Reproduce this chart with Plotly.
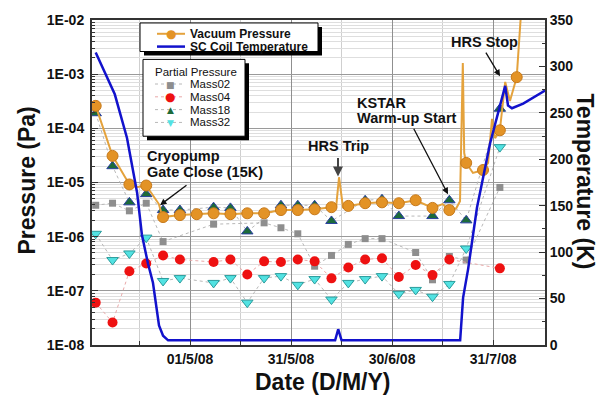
import plotly.graph_objects as go

# ---------------- data ----------------
sample_dates = [
    "2008-04-03", "2008-04-08", "2008-04-13", "2008-04-18", "2008-04-23", "2008-04-28",
    "2008-05-03", "2008-05-08", "2008-05-13", "2008-05-18", "2008-05-23", "2008-05-28",
    "2008-06-02", "2008-06-07", "2008-06-12", "2008-06-17", "2008-06-22", "2008-06-27",
    "2008-07-02", "2008-07-07", "2008-07-12", "2008-07-17", "2008-07-22", "2008-07-27",
    "2008-08-01", "2008-08-06",
]
vacuum_at_samples = [
    2.6e-4, 3.1e-5, 9.2e-6, 8.8e-6, 2.3e-6, 2.5e-6,
    2.6e-6, 2.7e-6, 2.6e-6, 2.7e-6, 2.7e-6, 3.1e-6,
    3.1e-6, 3.2e-6, 3.5e-6, 3.7e-6, 4.15e-6, 4.3e-6,
    4.15e-6, 4.7e-6, 3.4e-6, 3.1e-6, 2.3e-5, 1.7e-5,
    9.2e-5, 8.8e-4,
]
vacuum_dates = [
    "2008-04-03", "2008-04-08", "2008-04-13", "2008-04-15 12:00", "2008-04-18",
    "2008-04-20", "2008-04-21 18:00", "2008-04-22 16:00", "2008-04-23", "2008-04-28",
    "2008-05-03", "2008-05-08", "2008-05-13", "2008-05-18", "2008-05-23", "2008-05-28",
    "2008-06-02", "2008-06-07", "2008-06-12", "2008-06-13 10:00", "2008-06-14 06:00",
    "2008-06-15 10:00", "2008-06-17", "2008-06-22", "2008-06-27", "2008-07-02",
    "2008-07-07", "2008-07-12", "2008-07-15", "2008-07-17", "2008-07-19",
    "2008-07-20 04:00", "2008-07-21", "2008-07-21 10:00", "2008-07-22", "2008-07-24",
    "2008-07-27", "2008-07-28 12:00", "2008-07-29 16:00", "2008-07-30 14:00", "2008-08-01",
    "2008-08-02 14:00", "2008-08-04", "2008-08-06", "2008-08-07 08:00",
]
vacuum_values = [
    2.6e-4, 3.1e-5, 9.2e-6, 8.3e-6, 8.8e-6,
    5.8e-6, 4.0e-6, 2.5e-6, 2.3e-6, 2.5e-6,
    2.6e-6, 2.7e-6, 2.6e-6, 2.7e-6, 2.7e-6, 3.1e-6,
    3.1e-6, 3.2e-6, 3.5e-6, 3.7e-6, 1.25e-5,
    3.5e-6, 3.7e-6, 4.15e-6, 4.3e-6, 4.15e-6,
    4.7e-6, 3.4e-6, 4.0e-6, 3.1e-6, 3.3e-6,
    4.5e-6, 1.6e-3, 3.5e-5, 2.3e-5, 1.5e-5,
    1.7e-5, 2.3e-5, 1.5e-4, 6.6e-5, 9.2e-5,
    7.2e-4, 3.2e-4, 8.8e-4, 1.5e-2,
]
mass02 = [3.8e-6, 4.15e-6, 3.0e-6, 4.15e-6, 8.1e-7, None,
          None, 1.7e-6, None, None, 1.8e-6, 1.46e-6,
          1.13e-6, 2.85e-7, 4.5e-7, 7.2e-7, 9.2e-7, 9.2e-7,
          None, 5.1e-7, 1.6e-7, 4.3e-7, 3.7e-7, None,
          8.1e-6, None]
mass04 = [6.05e-8, 2.6e-8, 2.3e-7, 3.2e-7, 4.5e-7, 3.8e-7,
          None, 3.4e-7, 3.8e-7, 2.0e-7, 3.5e-7, 3.4e-7,
          3.8e-7, 3.5e-7, 1.7e-7, 2.7e-7, 3.8e-7, 4.0e-7,
          1.8e-7, 3.0e-7, 1.95e-7, 3.8e-7, None, None,
          2.6e-7, None]
mass18 = [1.9e-4, 2.0e-5, 4.3e-6, 6.1e-6, 3.1e-6, 3.1e-6,
          None, 3.5e-6, 3.4e-6, 1.25e-6, None, 3.8e-6,
          3.8e-6, 3.8e-6, 1.95e-6, None, 4.7e-6, 4.9e-6,
          2.4e-6, None, 2.4e-6, 4.7e-6, 2.0e-6, None,
          2.3e-4, None]
mass32 = [1.13e-6, 3.7e-7, 4.9e-7, 9.6e-7, 1.52e-7, 1.72e-7,
          None, 1.4e-7, 1.72e-7, 6.05e-8, 1.72e-7, 1.87e-7,
          1.29e-7, 1.65e-7, 6.9e-8, 1.4e-7, 1.65e-7, 1.87e-7,
          8.8e-8, 1.04e-7, 7.8e-8, 1.34e-7, 6.05e-7, None,
          4.5e-5, None]
temp_dates = [
    "2008-04-03", "2008-04-08 16:00", "2008-04-12 07:00", "2008-04-15 07:00",
    "2008-04-16 17:00", "2008-04-18 12:00", "2008-04-20", "2008-04-20 22:00",
    "2008-04-21 19:00", "2008-04-23", "2008-04-24 12:00", "2008-06-13 02:00",
    "2008-06-14", "2008-06-15", "2008-07-20 05:00", "2008-07-21 02:00",
    "2008-07-22 14:00", "2008-07-25 05:00", "2008-07-29 02:00", "2008-08-02 14:00",
    "2008-08-03 10:00", "2008-08-04 14:00", "2008-08-07 22:00", "2008-08-14 10:00",
]
temp_values = [315, 270, 223, 164, 119, 88, 67, 42, 21, 10, 5, 5,
               17, 5, 5, 51, 82, 148, 217, 279, 258, 255, 260, 274]

x_tick_dates = ["2008-05-01", "2008-05-31", "2008-06-30", "2008-07-30"]
x_tick_labels = ["01/5/08", "31/5/08", "30/6/08", "31/7/08"]
x_minor_dates = ["2008-04-16", "2008-05-16", "2008-06-15", "2008-07-15"]
p_tick_vals = [1e-8, 1e-7, 1e-6, 1e-5, 1e-4, 1e-3, 1e-2]
p_tick_labels = ["1E-08", "1E-07", "1E-06", "1E-05", "1E-04", "1E-03", "1E-02"]
t_tick_vals = [0, 50, 100, 150, 200, 250, 300, 350]
x_range = ["2008-04-01 21:36", "2008-08-14 09:36"]

# ---------------- layout helpers (pixel -> paper) ----------------
PL, PR, PT, PB = 92, 545, 15, 345
def fx(p):
    return (p - PL) / (PR - PL)
def fy(p):
    return (PB - p) / (PB - PT)

FONT = "Liberation Sans"
ORANGE_LINE = "#E4A23C"
ORANGE_MK = "#E39326"
BLUE = "#1212CC"

fig = go.Figure()
fig.add_trace(go.Scatter(x=sample_dates, y=mass02, name="Mass02", mode="lines+markers",
                         connectgaps=True, line=dict(color="#b8b8b8", width=1, dash="dot"),
                         marker=dict(symbol="square", size=7, color="#8e8e8e"), showlegend=False))
fig.add_trace(go.Scatter(x=sample_dates, y=mass04, name="Mass04", mode="lines+markers",
                         connectgaps=True, line=dict(color="#e9a8a8", width=1, dash="dot"),
                         marker=dict(symbol="circle", size=10, color="#EE1111"), showlegend=False))
fig.add_trace(go.Scatter(x=sample_dates, y=mass18, name="Mass18", mode="lines+markers",
                         connectgaps=True, line=dict(color="#b8b8b8", width=1, dash="dot"),
                         marker=dict(symbol="triangle-up", size=10, color="#1C6B3A",
                                     line=dict(color="#2A3FA0", width=1)), showlegend=False))
fig.add_trace(go.Scatter(x=sample_dates, y=mass32, name="Mass32", mode="lines+markers",
                         connectgaps=True, line=dict(color="#b8b8b8", width=1, dash="dot"),
                         marker=dict(symbol="triangle-down", size=10, color="#52E2E2",
                                     line=dict(color="#2A9C9C", width=1)), showlegend=False))
fig.add_trace(go.Scatter(x=vacuum_dates, y=vacuum_values, name="Vacuum Pressure", mode="lines",
                         line=dict(color=ORANGE_LINE, width=2), showlegend=False))
fig.add_trace(go.Scatter(x=sample_dates, y=vacuum_at_samples, name="Vacuum Pressure", mode="markers",
                         marker=dict(symbol="circle", size=11, color=ORANGE_MK,
                                     line=dict(color="#C77A1C", width=1)), showlegend=False))
fig.add_trace(go.Scatter(x=temp_dates, y=temp_values, name="SC Coil Temperature", mode="lines",
                         yaxis="y2", line=dict(color=BLUE, width=2.5), showlegend=False))

minor_p = [m * 10.0 ** e for e in range(-8, -2) for m in range(2, 10)]

fig.update_layout(
    width=606, height=396,
    margin=dict(l=PL, r=606 - PR, t=PT, b=396 - PB),
    paper_bgcolor="white", plot_bgcolor="white",
    font=dict(family=FONT, color="#111111"),
    showlegend=False,
    xaxis=dict(type="date", range=x_range, tickmode="array", tickvals=x_tick_dates,
               ticktext=x_tick_labels, ticks="inside", ticklen=5, tickcolor="#333",
               showgrid=True, gridcolor="#8f8f8f", gridwidth=1,
               minor=dict(tickvals=x_minor_dates, ticks="inside", ticklen=4, tickcolor="#333",
                          showgrid=True, gridcolor="#cfcfcf"),
               showline=True, linecolor="#333", linewidth=2, mirror=True, zeroline=False,
               tickfont=dict(family=FONT, size=14, weight="bold", color="#111")),
    yaxis=dict(type="log", range=[-8, -2], tickmode="array", tickvals=p_tick_vals,
               ticktext=p_tick_labels, ticks="inside", ticklen=6, tickcolor="#333",
               showgrid=True, gridcolor="#9a9a9a", gridwidth=1,
               minor=dict(tickvals=minor_p, ticks="inside", ticklen=3, tickcolor="#333",
                          showgrid=True, gridcolor="#dedede"),
               showline=True, linecolor="#333", linewidth=2, mirror=True, zeroline=False,
               ticklabelstandoff=3,
               tickfont=dict(family=FONT, size=14, weight="bold", color="#111")),
    yaxis2=dict(overlaying="y", side="right", range=[0, 350], tickmode="array",
                tickvals=t_tick_vals, ticks="inside", ticklen=6, tickcolor="#333",
                minor=dict(dtick=25, ticks="inside", ticklen=3, tickcolor="#333"),
                showgrid=False, zeroline=False, showline=True, linecolor="#333", linewidth=2,
                tickfont=dict(family=FONT, size=14, weight="bold", color="#111")),
)

shapes = []
ann = []

def rect(x0, y0, x1, y1, fill, lw):
    shapes.append(dict(type="rect", xref="paper", yref="paper", x0=fx(x0), x1=fx(x1),
                       y0=fy(y1), y1=fy(y0), fillcolor=fill,
                       line=dict(color="black", width=lw), layer="above"))

def hline(x0, x1, y, color, width, dash="solid"):
    shapes.append(dict(type="line", xref="paper", yref="paper", x0=fx(x0), x1=fx(x1),
                       y0=fy(y), y1=fy(y), line=dict(color=color, width=width, dash=dash),
                       layer="above"))

def text(t, x, y, size, bold=True, xanchor="left", color="#111111", family=FONT, angle=0):
    ann.append(dict(text=t, xref="paper", yref="paper", x=fx(x), y=fy(y), xanchor=xanchor,
                    yanchor="middle", showarrow=False, textangle=angle,
                    font=dict(family=family, size=size, color=color,
                              weight="bold" if bold else "normal")))

def arrow(tail, tip, color="#111111", width=1.3):
    ann.append(dict(text="", xref="paper", yref="paper", x=fx(tip[0]), y=fy(tip[1]),
                    ax=tail[0] - tip[0], ay=tail[1] - tip[1], showarrow=True,
                    arrowhead=2, arrowsize=1, arrowwidth=width, arrowcolor=color))

# legend 1 (main series)
rect(144, 22, 322, 51, "black", 0)
rect(140, 18, 318, 47, "white", 1)
hline(157, 185, 29, ORANGE_LINE, 2)
hline(157, 185, 42, BLUE, 2.5)
text("\u25CF", 171, 29.5, 12, bold=False, xanchor="center", color=ORANGE_MK, family="DejaVu Sans")
text("Vacuum Pressure", 188, 29, 12)
text("SC Coil Temperature", 188, 42, 12)

# legend 2 (partial pressures)
rect(147, 59, 249, 137, "black", 0)
rect(143, 55, 245, 133, "white", 1)
text("Partial Pressure", 153, 68, 11.5, bold=False)
legend2 = [("Mass02", 80, "\u25A0", "#8e8e8e", 9, "#b8b8b8"),
           ("Mass04", 93, "\u25CF", "#EE1111", 12, "#e9a8a8"),
           ("Mass18", 106, "\u25B2", "#1C6B3A", 9, "#b8b8b8"),
           ("Mass32", 119, "\u25BC", "#52E2E2", 9, "#b8b8b8")]
for name, yy, glyph, col, gs, lc in legend2:
    hline(155, 185, yy, lc, 1, "dot")
    text(glyph, 170, yy + 0.5, gs, bold=False, xanchor="center", color=col, family="DejaVu Sans")
    text(name, 188, yy, 11.5, bold=False)

# call-outs
text("Cryopump", 145, 153, 14.5)
text("Gate Close (15K)", 145, 169, 14.5)
arrow((188, 182), (160, 203))
text("HRS Trip", 338, 143, 14.5, xanchor="center")
arrow((338, 154), (338, 174), color="#444444", width=2)
text("KSTAR", 355, 99, 14.5)
text("Warm-up Start", 355, 115, 14.5)
arrow((413, 125), (448, 192))
text("HRS Stop", 484, 37, 14.5, xanchor="center")
arrow((485, 47), (500, 72))

# axis titles
text("Pressure (Pa)", 27, 178, 23, xanchor="center", angle=-90)
text("Temperature (K)", 585, 179, 23, xanchor="center", angle=90)
text("Date (D/M/Y)", 322, 383, 23, xanchor="center")

fig.update_layout(shapes=shapes, annotations=ann)
fig.write_html("out.html", config={"displayModeBar": False},
               post_script="document.body.style.margin='0';")
